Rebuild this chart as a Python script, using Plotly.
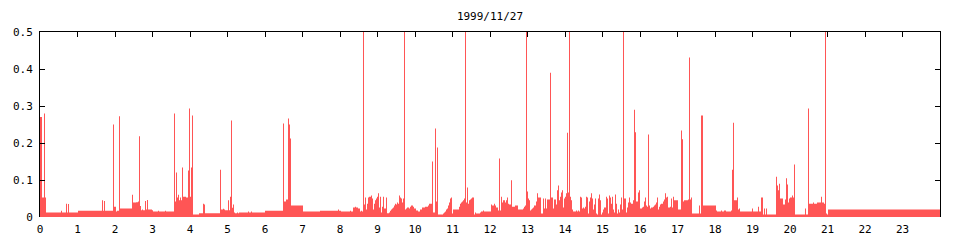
import plotly.graph_objects as go

title_text = "1999/11/27"

# start of each constant-level segment, minutes after midnight
start_minute = [
    0, 3.2, 6.4, 8, 9.6,
    33.6, 35.2, 41.6, 43.2, 44.8, 46.4,
    60.8, 99.2, 100.8, 102.4, 104,
    116.8, 118.4, 121.6, 123.2, 126.4, 128,
    147.2, 148.8, 153.6, 156.8, 158.4, 160, 161.6, 163.2, 164.8, 168, 169.6, 171.2, 172.8, 179.2, 180.8, 188.8, 190.4, 200, 201.6,
    214.4, 216, 217.6, 219.2, 220.8, 222.4, 224, 225.6, 227.2, 228.8, 233.6, 236.8, 238.4, 240, 241.6, 243.2, 244.8,
    254.4, 260.8, 262.4, 264,
    288, 289.6, 292.8, 294.4, 296, 300.8, 302.4, 304, 305.6, 307.2, 308.8, 310.4, 312, 315.2, 316.8, 318.4, 332.8, 334.4, 337.6, 339.2,
    360, 388.8, 390.4, 393.6, 396.8, 398.4, 400, 401.6,
    420.8, 448, 476.8, 478.4, 481.6, 496, 497.6, 500.8, 504, 505.6, 508.8, 512, 513.6, 515.2,
    516.8, 518.4, 520, 521.6, 523.2, 524.8, 526.4, 529.6, 531.2, 532.8, 534.4, 536, 537.6, 539.2, 540.8, 542.4, 544, 545.6, 547.2, 548.8, 550.4, 553.6, 555.2, 558.4, 560, 561.6, 563.2, 564.8, 566.4, 568, 569.6, 571.2, 572.8, 574.4, 576, 577.6, 579.2, 580.8,
    582.4, 584, 585.6, 587.2, 590.4, 592, 593.6, 596.8, 598.4, 601.6, 604.8, 608, 611.2, 616, 620.8, 622.4,
    627.2, 628.8, 632, 633.6, 635.2, 636.8, 644.8, 646.4, 648, 649.6, 651.2, 652.8, 654.4, 656, 657.6, 659.2, 660.8, 670.4, 672, 673.6, 675.2, 676.8, 678.4,
    680, 681.6, 683.2, 684.8, 686.4, 688, 689.6, 691.2, 694.4, 696, 697.6, 704, 705.6, 708.8, 710.4, 721.6, 723.2, 726.4, 728, 729.6, 732.8, 734.4, 736, 737.6, 739.2, 740.8, 744, 745.6, 747.2, 748.8, 750.4, 753.6, 755.2, 760, 764.8, 772.8, 774.4, 776,
    777.6, 779.2, 780.8, 782.4, 784, 785.6, 787.2, 788.8, 790.4, 793.6, 795.2, 796.8, 801.6, 804.8, 806.4, 808, 809.6, 811.2,
    816, 817.6, 820.8, 822.4, 825.6, 827.2, 828.8, 830.4, 832, 833.6, 835.2, 836.8, 838.4, 840, 841.6, 843.2, 844.8,
    846.4, 848, 849.6, 851.2, 852.8, 857.6, 859.2, 860.8, 862.4, 864, 865.6, 867.2, 868.8, 870.4, 872, 873.6, 875.2, 876.8, 878.4, 880, 881.6, 883.2, 884.8, 886.4, 888, 889.6, 891.2, 892.8, 894.4, 896, 897.6, 899.2, 900.8, 902.4, 905.6, 907.2, 908.8, 910.4, 912, 913.6, 915.2, 916.8, 918.4, 920, 921.6, 923.2, 924.8, 926.4, 928, 929.6, 931.2,
    932.8, 934.4, 937.6, 939.2, 940.8, 942.4, 944, 945.6, 948.8, 950.4, 952, 953.6, 956.8, 958.4,
    960, 963.2, 964.8, 966.4, 968, 969.6, 971.2, 972.8, 974.4, 976, 977.6, 980.8, 982.4, 984, 985.6, 987.2, 988.8, 990.4, 992, 993.6, 996.8, 998.4, 1000, 1001.6, 1003.2, 1004.8, 1008, 1009.6, 1011.2, 1012.8, 1014.4,
    1020.8, 1025.6, 1027.2, 1028.8, 1030.4, 1036.8, 1038.4, 1040, 1041.6, 1043.2, 1054.4, 1056, 1057.6, 1060.8, 1081.6, 1083.2, 1089.6, 1091.2, 1094.4, 1097.6, 1105.6, 1107.2, 1108.8, 1110.4, 1115.2, 1116.8, 1118.4, 1120, 1139.2, 1140.8, 1148.8, 1150.4, 1153.6, 1156.8, 1158.4, 1160, 1161.6, 1163.2,
    1177.6, 1179.2, 1180.8, 1182.4, 1184, 1188.8, 1192, 1193.6, 1195.2, 1196.8, 1198.4, 1200, 1203.2, 1204.8, 1206.4, 1208, 1224, 1225.6, 1228.8, 1230.4, 1236.8, 1238.4, 1243.2, 1249.6, 1251.2, 1254.4, 1256, 1257.6, 1259.2, 1260.8,
]

# level of each segment
load_value = [
    0.27, 0.053, 0.28, 0.053, 0.012,
    0.017, 0.012, 0.036, 0.012, 0.035, 0.012,
    0.017, 0.045, 0.017, 0.043, 0.017,
    0.25, 0.028, 0.015, 0.017, 0.272, 0.023,
    0.06, 0.039, 0.04, 0.042, 0.218, 0.03, 0.018, 0.02, 0.018, 0.043, 0.02, 0.046, 0.02, 0.018, 0.015, 0.017, 0.015, 0.017, 0.015,
    0.28, 0.042, 0.12, 0.053, 0.06, 0.045, 0.053, 0.045, 0.134, 0.055, 0.053, 0.126, 0.293, 0.055, 0.134, 0.274, 0.007,
    0.01, 0.036, 0.034, 0.01,
    0.128, 0.02, 0.022, 0.02, 0.018, 0.045, 0.018, 0.055, 0.261, 0.025, 0.034, 0.012, 0.01, 0.012, 0.01, 0.012, 0.015, 0.012, 0.015, 0.012,
    0.017, 0.253, 0.042, 0.047, 0.266, 0.25, 0.212, 0.031,
    0.015, 0.017, 0.02, 0.017, 0.015, 0.017, 0.015, 0.026, 0.028, 0.026, 0.023, 0.015, 0.017, 0.015,
    0.6, 0.034, 0.053, 0.02, 0.036, 0.053, 0.055, 0.058, 0.05, 0.02, 0.036, 0.045, 0.05, 0.055, 0.064, 0.026, 0.055, 0.012, 0.028, 0.055, 0.023, 0.053, 0.01, 0.012, 0.017, 0.02, 0.023, 0.026, 0.031, 0.036, 0.034, 0.039, 0.036, 0.058, 0.053, 0.05, 0.039, 0.05,
    0.6, 0.02, 0.023, 0.026, 0.023, 0.028, 0.031, 0.028, 0.023, 0.0176, 0.015, 0.02, 0.026, 0.028, 0.031, 0.036,
    0.15, 0.012, 0.239, 0.042, 0.188, 0.007, 0.0095, 0.012, 0.015, 0.02, 0.023, 0.031, 0.039, 0.05, 0.053, 0.0095, 0.02, 0.028, 0.036, 0.039, 0.042, 0.045, 0.05,
    0.6, 0.039, 0.08, 0.036, 0.045, 0.047, 0.05, 0.053, 0.007, 0.012, 0.0095, 0.012, 0.015, 0.0176, 0.015, 0.034, 0.031, 0.036, 0.031, 0.026, 0.0176, 0.158, 0.0176, 0.055, 0.039, 0.045, 0.039, 0.045, 0.053, 0.036, 0.034, 0.099, 0.028, 0.031, 0.02, 0.023, 0.028, 0.031,
    0.6, 0.069, 0.05, 0.045, 0.0176, 0.02, 0.023, 0.026, 0.031, 0.042, 0.064, 0.053, 0.0095, 0.05, 0.023, 0.05, 0.023, 0.047,
    0.39, 0.053, 0.023, 0.047, 0.034, 0.072, 0.085, 0.045, 0.055, 0.066, 0.072, 0.026, 0.05, 0.055, 0.064, 0.228, 0.066,
    0.6, 0.055, 0.045, 0.02, 0.015, 0.0176, 0.015, 0.0176, 0.015, 0.055, 0.053, 0.023, 0.026, 0.023, 0.028, 0.055, 0.053, 0.0095, 0.042, 0.053, 0.064, 0.05, 0.02, 0.034, 0.05, 0.0095, 0.007, 0.05, 0.061, 0.045, 0.007, 0.012, 0.02, 0.026, 0.055, 0.05, 0.0095, 0.058, 0.053, 0.036, 0.055, 0.02, 0.012, 0.061, 0.036, 0.0095, 0.02, 0.012, 0.034, 0.053, 0.02,
    0.6, 0.05, 0.012, 0.026, 0.039, 0.053, 0.039, 0.036, 0.045, 0.29, 0.229, 0.042, 0.066, 0.072,
    0.023, 0.026, 0.028, 0.042, 0.053, 0.031, 0.028, 0.223, 0.031, 0.023, 0.026, 0.028, 0.031, 0.034, 0.039, 0.053, 0.02, 0.028, 0.034, 0.036, 0.042, 0.047, 0.064, 0.053, 0.055, 0.026, 0.028, 0.05, 0.026, 0.055, 0.045,
    0.02, 0.234, 0.21, 0.042, 0.045, 0.047, 0.431, 0.047, 0.053, 0.0095, 0.031, 0.0095, 0.274, 0.031, 0.0176, 0.015, 0.0176, 0.015, 0.0176, 0.015, 0.0176, 0.128, 0.255, 0.045, 0.053, 0.02, 0.023, 0.015, 0.023, 0.015, 0.028, 0.015, 0.053, 0.007, 0.023, 0.007, 0.023, 0.007,
    0.109, 0.085, 0.072, 0.09, 0.05, 0.034, 0.047, 0.105, 0.088, 0.039, 0.05, 0.053, 0.058, 0.053, 0.142, 0.007, 0.023, 0.007, 0.293, 0.036, 0.039, 0.036, 0.039, 0.055, 0.039, 0.036, 0.6, 0.0095, 0.007, 0.02,
]

day_end_minute = 1440
hour_ticks = list(range(24))
y_ticks = [0, 0.1, 0.2, 0.3, 0.4, 0.5]
y_tick_text = ["0", "0.1", "0.2", "0.3", "0.4", "0.5"]

fill_color = "#ff5555"
font_family = "DejaVu Sans Mono"

x_hours = [m / 60 for m in start_minute] + [day_end_minute / 60]
y_step = load_value + [load_value[-1]]

fig = go.Figure()
fig.add_trace(go.Scatter(
    x=x_hours, y=y_step, mode="lines",
    line=dict(width=0, shape="hv", color=fill_color),
    fill="tozeroy", fillcolor=fill_color,
    hoverinfo="skip", showlegend=False,
))
# empty trace so the top axis is drawn
fig.add_trace(go.Scatter(x=[None], y=[None], xaxis="x2", mode="lines",
                         hoverinfo="skip", showlegend=False))

fig.update_layout(
    width=960, height=240,
    margin=dict(l=40, r=20, t=32, b=23, autoexpand=False),
    paper_bgcolor="white", plot_bgcolor="white",
    showlegend=False,
    font=dict(family=font_family, size=11, color="black"),
    title=dict(text=title_text, xref="paper", x=0.5, xanchor="center",
               yref="container", y=1 - 16 / 240, yanchor="middle",
               font=dict(family=font_family, size=11, color="black")),
    xaxis=dict(range=[0, 24], tickvals=hour_ticks, ticks="", showline=False,
               showgrid=False, zeroline=False, layer="below traces",
               ticklabelstandoff=4, automargin=False),
    xaxis2=dict(range=[0, 24], overlaying="x", side="top", anchor="y",
                tickvals=hour_ticks, ticks="inside", ticklen=5, tickcolor="black",
                showticklabels=False, showline=True, linecolor="black", linewidth=1,
                showgrid=False, zeroline=False, automargin=False),
    yaxis=dict(range=[0, 0.5], tickvals=y_ticks, ticktext=y_tick_text,
               ticks="inside", ticklen=5, tickcolor="black",
               showline=True, mirror="ticks", linecolor="black", linewidth=1,
               showgrid=False, zeroline=False, ticklabelstandoff=4,
               automargin=False),
)

fig.write_html("out.html")
